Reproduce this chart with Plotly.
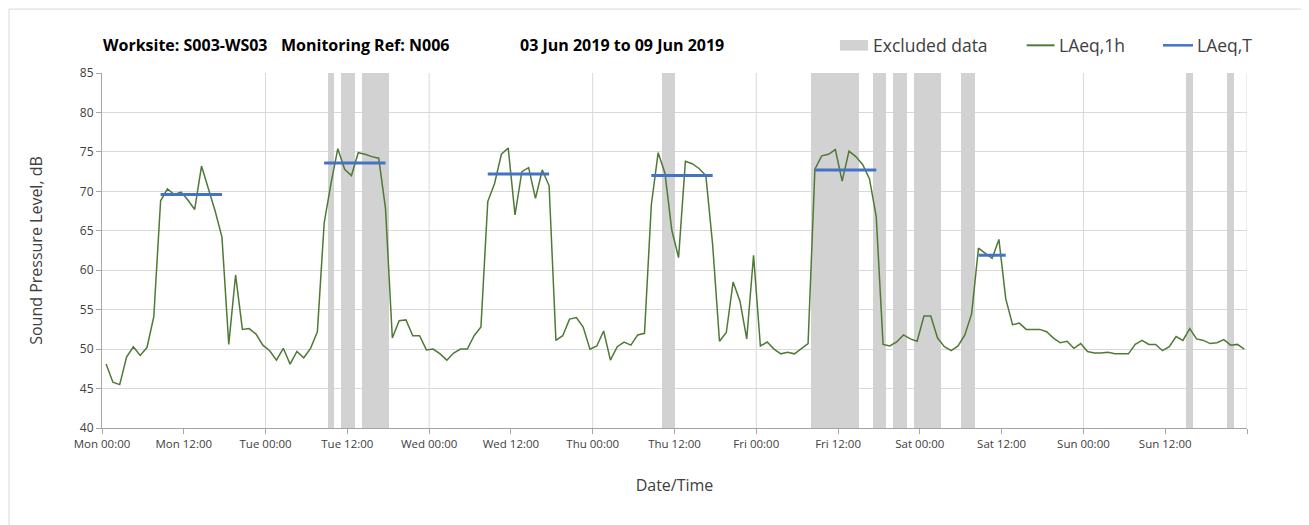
import pandas as pd
import plotly.graph_objects as go

# hourly LAeq,1h readings, Mon 03 Jun 2019 00:00 onwards (168 hours)
laeq_1h = [
    48.1, 45.8, 45.5, 49.0, 50.3, 49.2, 50.2, 54.1, 68.8, 70.3,
    69.6, 69.9, 68.9, 67.7, 73.2, 70.4, 67.5, 64.2, 50.6, 59.4,
    52.5, 52.6, 51.9, 50.5, 49.8, 48.6, 50.1, 48.1, 49.7, 48.9,
    50.1, 52.2, 66.0, 71.0, 75.4, 72.8, 72.0, 74.9, 74.7, 74.4,
    74.2, 67.8, 51.4, 53.6, 53.7, 51.7, 51.7, 49.9, 50.0, 49.4,
    48.6, 49.5, 50.0, 50.0, 51.7, 52.8, 68.7, 71.0, 74.7, 75.5,
    67.0, 72.5, 73.0, 69.1, 72.7, 70.7, 51.1, 51.7, 53.8, 54.0,
    52.8, 50.0, 50.4, 52.3, 48.6, 50.3, 50.9, 50.5, 51.8, 52.0,
    68.3, 74.9, 72.3, 65.1, 61.6, 73.8, 73.5, 72.9, 72.0, 63.2,
    51.0, 52.1, 58.5, 56.1, 51.3, 61.9, 50.4, 50.9, 50.0, 49.4,
    49.6, 49.4, 50.1, 50.7, 72.8, 74.5, 74.7, 75.3, 71.3, 75.1,
    74.4, 73.4, 71.6, 66.8, 50.6, 50.4, 50.9, 51.8, 51.3, 51.0,
    54.2, 54.2, 51.4, 50.3, 49.8, 50.4, 51.8, 54.5, 62.8, 62.1,
    61.5, 63.9, 56.4, 53.1, 53.3, 52.5, 52.5, 52.5, 52.2, 51.4,
    50.8, 51.0, 50.1, 50.7, 49.7, 49.5, 49.5, 49.6, 49.4, 49.4,
    49.4, 50.6, 51.1, 50.6, 50.6, 49.8, 50.3, 51.6, 51.1, 52.6,
    51.3, 51.1, 50.7, 50.8, 51.2, 50.5, 50.6, 50.0,
]
times = pd.date_range("2019-06-03 00:36", periods=len(laeq_1h), freq="h")

# hours (index into times) flagged as excluded
excluded_hours = [33, 35, 36, 38, 39, 40, 41, 82, 83,
                  104, 105, 106, 107, 108, 109, 110, 113, 114,
                  116, 117, 119, 120, 121, 122, 126, 127, 159, 165]

# LAeq,T daytime periods: first hour, last hour, level
period_start = [8, 32, 56, 80, 104, 128]
period_end = [17, 41, 65, 89, 113, 132]
period_level = [69.6, 73.6, 72.2, 72.0, 72.7, 61.9]

tick_times = pd.date_range("2019-06-03", "2019-06-10", freq="12h")
tick_labels = [t.strftime("%a %H:%M") for t in tick_times[:-1]] + [""]
midnights = pd.date_range("2019-06-04", "2019-06-10", freq="D")
x_start = pd.Timestamp("2019-06-03")
x_end = pd.Timestamp("2019-06-10")

title_parts = ["Worksite: S003-WS03", "Monitoring Ref: N006", "03 Jun 2019 to 09 Jun 2019"]
title_x = [-0.001, 0.1546, 0.3633]

FONT = "Open Sans"
GREEN = "#4f7a36"
BLUE = "#4472c4"
GREY = "#d2d2d2"
TXT = "#404040"

fig = go.Figure()

fig.add_trace(go.Bar(
    x=[times[i] for i in excluded_hours],
    y=[45] * len(excluded_hours), base=40,
    width=3600000, marker=dict(color=GREY, line=dict(width=0)),
    name="Excluded data"))

fig.add_trace(go.Scatter(x=times, y=laeq_1h, mode="lines",
                         line=dict(color=GREEN, width=1.5), name="LAeq,1h"))

bx, by = [], []
for s, e, v in zip(period_start, period_end, period_level):
    bx += [times[s], times[e], None]
    by += [v, v, None]
fig.add_trace(go.Scatter(x=bx, y=by, mode="lines",
                         line=dict(color=BLUE, width=3), name="LAeq,T"))

# vertical gridlines at midnight only
for m in midnights:
    fig.add_shape(type="line", xref="x", yref="paper", x0=m, x1=m, y0=0, y1=1,
                  line=dict(color="#d9d9d9", width=1), layer="below")

# outer chart border
fig.add_shape(type="rect", xref="paper", yref="paper",
              x0=-0.0812, x1=1.06, y0=-0.3, y1=1.18,
              line=dict(color="#d9d9d9", width=1))

for txt, xp in zip(title_parts, title_x):
    fig.add_annotation(text=txt, xref="paper", yref="paper", x=xp, y=1.078,
                       xanchor="left", yanchor="middle", showarrow=False,
                       font=dict(family=FONT, size=16, color="#000000", weight="bold"))

# legend drawn by hand to match the original layout
LY = 1.078
fig.add_shape(type="rect", xref="paper", yref="paper", x0=0.6445, x1=0.6690,
              y0=1.063, y1=1.093, fillcolor=GREY, line=dict(width=0))
fig.add_shape(type="line", xref="paper", yref="paper", x0=0.8076, x1=0.8319,
              y0=LY, y1=LY, line=dict(color=GREEN, width=2))
fig.add_shape(type="line", xref="paper", yref="paper", x0=0.9266, x1=0.9528,
              y0=LY, y1=LY, line=dict(color=BLUE, width=2.5))
for txt, xp in zip(["Excluded data", "LAeq,1h", "LAeq,T"], [0.6715, 0.8341, 0.9546]):
    fig.add_annotation(text=txt, xref="paper", yref="paper", x=xp, y=LY,
                       xanchor="left", yanchor="middle", showarrow=False,
                       font=dict(family=FONT, size=17.5, color=TXT))

fig.update_layout(
    width=1301, height=517,
    margin=dict(l=94, r=62, t=65, b=97),
    paper_bgcolor="white", plot_bgcolor="white",
    font=dict(family=FONT, color=TXT),
    showlegend=False, bargap=0,
)

fig.update_xaxes(
    type="date", range=[x_start, x_end],
    tickmode="array", tickvals=tick_times, ticktext=tick_labels,
    showgrid=False, showline=True, linecolor="#a6a6a6", linewidth=1,
    ticks="outside", ticklen=5, tickcolor="#a6a6a6",
    tickfont=dict(size=11.5, color=TXT), automargin=False,
    title=dict(text="Date/Time", font=dict(size=16, color=TXT), standoff=30),
)
fig.update_yaxes(
    range=[40, 85], dtick=5, tick0=40,
    showgrid=True, gridcolor="#d9d9d9", zeroline=False,
    showline=True, linecolor="#a6a6a6", linewidth=1,
    ticks="outside", ticklen=5, tickcolor="#a6a6a6",
    tickfont=dict(size=12, color=TXT), automargin=False,
    title=dict(text="Sound Pressure Level, dB", font=dict(size=16, color=TXT), standoff=33),
)

fig.write_html("out.html")
